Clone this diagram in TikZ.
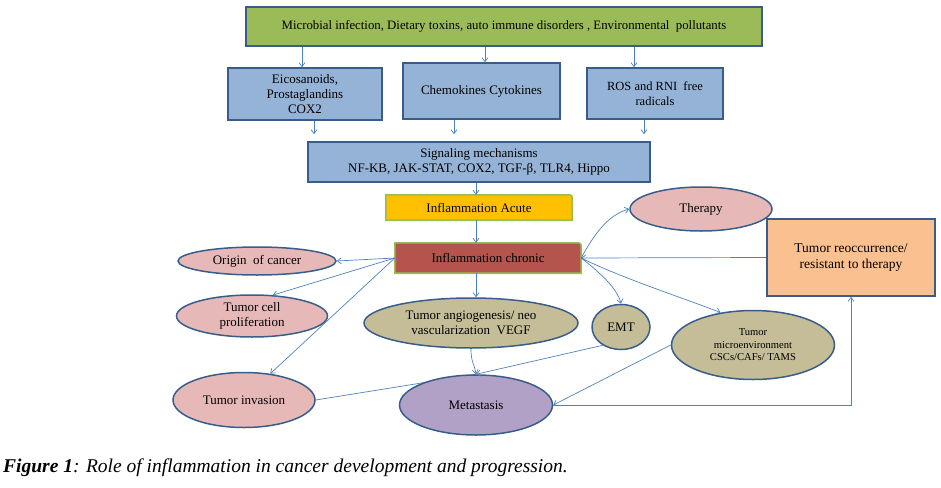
\documentclass[tikz,border=0pt]{standalone}
\usepackage{fontspec}
\setmainfont{Liberation Serif}
\usetikzlibrary{arrows.meta,calc,backgrounds,shapes.geometric}
\definecolor{boxgreen}{HTML}{9BBB59}
\definecolor{boxblue}{HTML}{95B3D7}
\definecolor{edgeblue}{HTML}{385D8A}
\definecolor{arrblue}{HTML}{4F81BD}
\definecolor{acutec}{HTML}{FFC000}
\definecolor{chronicc}{HTML}{B4544C}
\definecolor{pinkc}{HTML}{E6B9B8}
\definecolor{khakic}{HTML}{C4BD97}
\definecolor{metc}{HTML}{B2A1C7}
\definecolor{orangec}{HTML}{FAC090}
\tikzset{
  bluebox/.style={draw=edgeblue, line width=1.6pt, fill=boxblue, inner sep=0pt, align=center, font=\fontsize{13}{15}\selectfont},
  ell/.style={ellipse, draw=edgeblue, line width=1.5pt, inner sep=0pt, align=center, font=\fontsize{13}{15}\selectfont},
  flatbox/.style={inner sep=0pt, align=center, font=\fontsize{13}{15}\selectfont},
  arr/.style={draw=arrblue, line width=0.7pt, -{Straight Barb[length=4pt,width=6pt]}},
  ln/.style={draw=arrblue, line width=0.7pt},
}
\begin{document}
\begin{tikzpicture}[x=1pt,y=-1pt]
\useasboundingbox (0,0) rectangle (941,487);
% boxes
\node[bluebox, fill=boxgreen, line width=2pt, minimum width=516pt, minimum height=39pt, font=\fontsize{12.8}{15}\selectfont] (top) at (504,26.5)
  {Microbial infection, Dietary toxins, auto immune disorders , Environmental\ \ pollutants};
\node[bluebox, minimum width=154pt, minimum height=52pt] (eic) at (305,94) {Eicosanoids,\\Prostaglandins\\COX2};
\node[bluebox, minimum width=157pt, minimum height=56pt] (chem) at (481.5,91) {Chemokines Cytokines};
\node[bluebox, minimum width=136pt, minimum height=51pt, font=\fontsize{12.5}{15}\selectfont] (ros) at (655,93.5) {ROS and RNI\ \ free\\radicals};
\node[bluebox, minimum width=342pt, minimum height=40pt, font=\fontsize{13}{14.5}\selectfont] (sig) at (479,162) {Signaling mechanisms\\NF-KB,\ JAK-STAT, COX2, TGF-β, TLR4, Hippo};
% acute & chronic
\node[flatbox, minimum width=186pt, minimum height=25pt] (acute) at (479,207.5) {};
\node[flatbox, minimum width=186pt, minimum height=30pt] (chronic) at (488,258) {};
\foreach \n/\c in {acute/acutec, chronic/chronicc}{
  \filldraw[draw=boxgreen, fill=\c, line width=1.6pt]
    (\n.south west) -- (\n.north west) -- ($(\n.north east)+(-6,0)$)
    .. controls (\n.north east) .. ($(\n.north east)+(0,6)$) -- (\n.south east) -- cycle;
}
\node[flatbox] at (acute) {Inflammation Acute};
\node[flatbox] at (chronic) {Inflammation chronic};
% ellipses
\node[ell, fill=pinkc, minimum width=158pt, minimum height=28pt] (origin) at (257,261) {Origin\ \ of cancer};
\node[ell, fill=pinkc, minimum width=151pt, minimum height=42pt] (prolif) at (252,316) {Tumor cell\\proliferation};
\node[ell, fill=khakic, minimum width=214pt, minimum height=50pt] (angio) at (471,323) {Tumor angiogenesis/ neo\\vascularization\ \ VEGF};
\node[ell, fill=pinkc, minimum width=142pt, minimum height=55pt] (inv) at (244,400) {Tumor invasion};
\node[ell, fill=metc, minimum width=153pt, minimum height=60pt] (met) at (476,405) {Metastasis};
\node[ell, fill=khakic, minimum width=58pt, minimum height=45pt] (emt) at (621,327) {EMT};
\node[ell, fill=khakic, minimum width=163pt, minimum height=69pt, font=\fontsize{10.6}{12.5}\selectfont] (micro) at (753,345) {Tumor\\microenvironment\\CSCs/CAFs/ TAMS};
\node[ell, fill=pinkc, minimum width=142pt, minimum height=44pt] (ther) at (701,209) {Therapy};
\node[bluebox, fill=orangec, minimum width=168pt, minimum height=77pt, font=\fontsize{13.5}{16}\selectfont] (reoc) at (851,257.5) {Tumor reoccurrence/\\resistant to therapy};
% connectors top
\draw[arr] (top.south -| 302,0) -- (eic.north -| 302,0);
\draw[arr] (top.south -| 485,0) -- (chem.north -| 485,0);
\draw[arr] (top.south -| 634,0) -- (ros.north -| 634,0);
\draw[arr, shorten >=7pt] (eic.south -| 314,0) -- (sig.north -| 314,0);
\draw[arr, shorten >=7pt] (chem.south -| 454,0) -- (sig.north -| 454,0);
\draw[arr, shorten >=7pt] (ros.south -| 644,0) -- (sig.north -| 644,0);
\draw[arr] (sig.south -| 476,0) -- (acute.north -| 476,0);
\draw[arr] (acute.south -| 476,0) -- (chronic.north -| 476,0);
% chronic outward
\draw[arr] (chronic.west) -- (origin.east);
\draw[arr] (chronic.west) -- (prolif.45);
\draw[arr] (chronic.west) -- (inv.45);
\draw[arr] (chronic.south -| 476,0) -- (angio.north -| 476,0);
\draw[arr] (chronic.east) .. controls +(12,-22) and +(-22,6) .. (ther.west);
\draw[arr] (chronic.east) .. controls +(18,14) and +(-4,-16) .. (emt.north);
\draw[arr] (chronic.east) .. controls +(40,20) and +(-30,-12) .. (micro.135);
\draw[arr] (reoc.west) -- (chronic.east);
% to metastasis
\draw[arr] (angio.south) .. controls +(0,14) and +(-2,-12) .. (met.north);
\draw[arr] (emt.225) -- (met.north);
\draw[arr] (micro.west) -- (met.east);
\draw[arr] (met.east) -| (reoc.south);
\begin{scope}[on background layer]
\draw[ln] (inv.east) -- (met.north);
\end{scope}
% caption
\node[anchor=base west, inner sep=0pt, font=\fontsize{19.5}{22}\selectfont\itshape] (cap) at (3,472)
  {\textbf{Figure 1}: Role of inflammation in cancer development and progression.};
\end{tikzpicture}
\end{document}
